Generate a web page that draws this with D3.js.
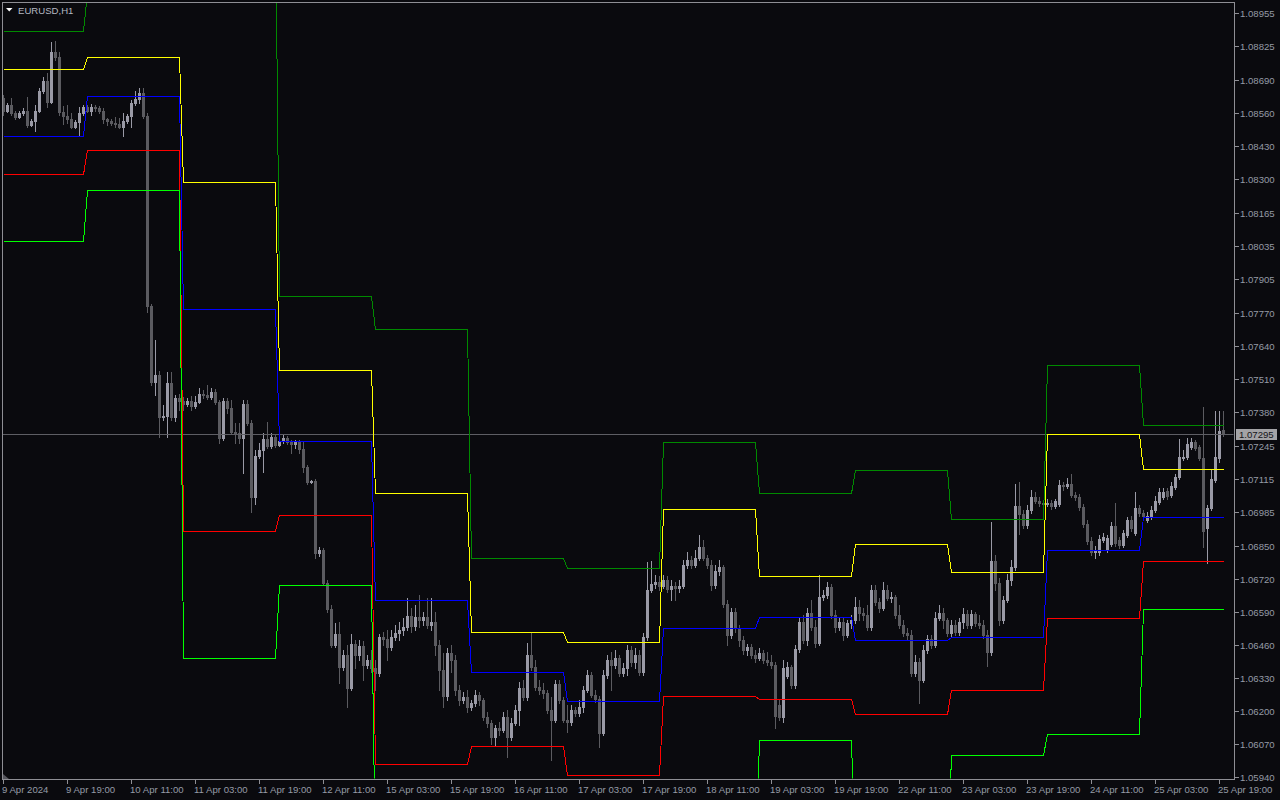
<!DOCTYPE html>
<html><head><meta charset="utf-8">
<script src="https://cdn.jsdelivr.net/npm/d3@7"></script>
<style>
html,body{margin:0;padding:0;background:#0a0a0e;}
svg{display:block}
text{font-family:"Liberation Sans",Arial,sans-serif;}
</style></head><body>
<svg id="chart" width="1280" height="800"></svg>
<script>
const symbolTitle = "EURUSD,H1";
const lastPrice = 1.07295;

const open = [
1.08619,1.08571,1.08591,1.08560,1.08544,1.08560,1.08571,1.08512,1.08528,1.08571,
1.08647,1.08686,1.08603,1.08801,1.08781,1.08564,1.08548,1.08536,1.08504,1.08524,
1.08560,1.08583,1.08571,1.08583,1.08579,1.08568,1.08536,1.08528,1.08520,1.08516,
1.08504,1.08528,1.08548,1.08599,1.08615,1.08639,1.08548,1.07797,1.07497,1.07525,
1.07359,1.07363,1.07493,1.07359,1.07434,1.07422,1.07410,1.07422,1.07402,1.07418,
1.07450,1.07446,1.07438,1.07458,1.07418,1.07276,1.07422,1.07394,1.07300,1.07296,
1.07276,1.07410,1.07335,1.07043,1.07205,1.07228,1.07272,1.07244,1.07280,1.07248,
1.07264,1.07276,1.07260,1.07252,1.07260,1.07232,1.07161,1.07102,1.07106,1.06822,
1.06833,1.06703,1.06600,1.06458,1.06502,1.06371,1.06419,1.06288,1.06462,1.06419,
1.06454,1.06379,1.06399,1.06367,1.06348,1.06490,1.06482,1.06450,1.06490,1.06506,
1.06517,1.06529,1.06573,1.06533,1.06569,1.06557,1.06569,1.06537,1.06549,1.06458,
1.06359,1.06257,1.06427,1.06399,1.06280,1.06241,1.06253,1.06213,1.06229,1.06261,
1.06241,1.06174,1.06150,1.06095,1.06130,1.06122,1.06174,1.06095,1.06150,1.06201,
1.06288,1.06253,1.06419,1.06371,1.06292,1.06280,1.06269,1.06201,1.06162,1.06304,
1.06241,1.06162,1.06154,1.06201,1.06190,1.06213,1.06280,1.06340,1.06261,1.06245,
1.06111,1.06340,1.06399,1.06379,1.06407,1.06348,1.06367,1.06438,1.06391,1.06419,
1.06352,1.06490,1.06675,1.06699,1.06707,1.06691,1.06715,1.06679,1.06691,1.06683,
1.06691,1.06774,1.06794,1.06774,1.06802,1.06845,1.06802,1.06774,1.06695,1.06751,
1.06766,1.06620,1.06498,1.06589,1.06525,1.06478,1.06438,1.06450,1.06419,1.06407,
1.06427,1.06399,1.06391,1.06379,1.06221,1.06174,1.06336,1.06371,1.06300,1.06442,
1.06549,1.06478,1.06585,1.06529,1.06466,1.06648,1.06656,1.06687,1.06577,1.06529,
1.06549,1.06498,1.06545,1.06557,1.06608,1.06585,1.06577,1.06529,1.06675,1.06628,
1.06604,1.06675,1.06644,1.06648,1.06577,1.06537,1.06506,1.06498,1.06348,1.06391,
1.06320,1.06438,1.06482,1.06458,1.06565,1.06585,1.06557,1.06506,1.06537,1.06510,
1.06549,1.06581,1.06537,1.06581,1.06545,1.06537,1.06498,1.06431,1.06790,1.06703,
1.06557,1.06636,1.06715,1.06766,1.07007,1.06976,1.06932,1.06991,1.07043,1.07027,
1.07019,1.07015,1.07019,1.07007,1.07015,1.07090,1.07086,1.07094,1.07051,1.07043,
1.07003,1.06936,1.06869,1.06826,1.06826,1.06873,1.06833,1.06857,1.06928,1.06873,
1.06853,1.06893,1.06952,1.06901,1.06999,1.06980,1.06952,1.06964,1.06991,1.07023,
1.07043,1.07067,1.07051,1.07082,1.07122,1.07197,1.07201,1.07240,1.07260,1.07240,
1.07197,1.06920,1.06999,1.07110,1.07197,1.07307];

const high = [
1.08631,1.08599,1.08619,1.08571,1.08568,1.08579,1.08623,1.08536,1.08591,1.08658,
1.08702,1.08718,1.08840,1.08844,1.08801,1.08587,1.08591,1.08560,1.08532,1.08583,
1.08591,1.08591,1.08595,1.08591,1.08587,1.08579,1.08540,1.08536,1.08544,1.08540,
1.08560,1.08556,1.08611,1.08650,1.08658,1.08658,1.08560,1.07805,1.07663,1.07541,
1.07406,1.07537,1.07537,1.07446,1.07450,1.07438,1.07434,1.07442,1.07442,1.07473,
1.07465,1.07485,1.07473,1.07469,1.07426,1.07434,1.07434,1.07426,1.07335,1.07335,
1.07426,1.07426,1.07347,1.07228,1.07256,1.07296,1.07339,1.07296,1.07288,1.07280,
1.07288,1.07284,1.07268,1.07268,1.07268,1.07260,1.07169,1.07110,1.07114,1.06845,
1.06841,1.06715,1.06616,1.06545,1.06549,1.06438,1.06458,1.06502,1.06478,1.06478,
1.06474,1.06419,1.06438,1.06399,1.06502,1.06510,1.06517,1.06517,1.06537,1.06549,
1.06565,1.06644,1.06604,1.06616,1.06656,1.06589,1.06644,1.06644,1.06589,1.06478,
1.06427,1.06446,1.06458,1.06419,1.06300,1.06273,1.06280,1.06241,1.06280,1.06273,
1.06249,1.06194,1.06162,1.06142,1.06154,1.06194,1.06201,1.06170,1.06221,1.06312,
1.06320,1.06466,1.06510,1.06399,1.06320,1.06308,1.06280,1.06253,1.06320,1.06320,
1.06253,1.06221,1.06221,1.06213,1.06241,1.06296,1.06359,1.06352,1.06280,1.06257,
1.06359,1.06419,1.06431,1.06438,1.06419,1.06387,1.06458,1.06454,1.06446,1.06438,
1.06506,1.06786,1.06790,1.06735,1.06731,1.06735,1.06731,1.06715,1.06707,1.06715,
1.06794,1.06826,1.06810,1.06833,1.06893,1.06873,1.06814,1.06794,1.06774,1.06794,
1.06774,1.06636,1.06604,1.06604,1.06537,1.06494,1.06462,1.06462,1.06438,1.06446,
1.06438,1.06431,1.06419,1.06391,1.06241,1.06399,1.06391,1.06379,1.06458,1.06565,
1.06577,1.06604,1.06636,1.06557,1.06735,1.06675,1.06707,1.06699,1.06596,1.06565,
1.06565,1.06557,1.06577,1.06648,1.06636,1.06604,1.06616,1.06695,1.06695,1.06644,
1.06707,1.06695,1.06668,1.06656,1.06616,1.06557,1.06525,1.06517,1.06419,1.06407,
1.06458,1.06498,1.06498,1.06589,1.06616,1.06604,1.06565,1.06557,1.06557,1.06565,
1.06604,1.06596,1.06596,1.06589,1.06577,1.06557,1.06517,1.06944,1.06814,1.06723,
1.06652,1.06739,1.06794,1.07094,1.07102,1.06991,1.07011,1.07070,1.07063,1.07043,
1.07031,1.07035,1.07031,1.07035,1.07110,1.07102,1.07118,1.07134,1.07063,1.07055,
1.07015,1.06952,1.06885,1.06849,1.06893,1.06901,1.06893,1.06944,1.07019,1.06885,
1.06912,1.06964,1.06968,1.07063,1.07011,1.06991,1.06984,1.07007,1.07047,1.07078,
1.07078,1.07078,1.07102,1.07134,1.07272,1.07228,1.07276,1.07276,1.07268,1.07248,
1.07398,1.07011,1.07149,1.07383,1.07383,1.07383];

const low = [
1.08552,1.08564,1.08552,1.08536,1.08540,1.08552,1.08504,1.08508,1.08492,1.08564,
1.08639,1.08583,1.08599,1.08769,1.08552,1.08516,1.08520,1.08500,1.08500,1.08469,
1.08552,1.08564,1.08552,1.08571,1.08560,1.08520,1.08512,1.08512,1.08504,1.08500,
1.08469,1.08520,1.08504,1.08591,1.08599,1.08540,1.07774,1.07485,1.07446,1.07280,
1.07347,1.07280,1.07347,1.07343,1.07386,1.07386,1.07402,1.07386,1.07394,1.07414,
1.07434,1.07430,1.07430,1.07410,1.07256,1.07268,1.07375,1.07292,1.07256,1.07256,
1.07138,1.07327,1.06984,1.07015,1.07197,1.07142,1.07236,1.07236,1.07240,1.07244,
1.07256,1.07252,1.07217,1.07236,1.07217,1.07142,1.07094,1.07098,1.06802,1.06810,
1.06695,1.06589,1.06450,1.06450,1.06308,1.06359,1.06213,1.06280,1.06367,1.06399,
1.06320,1.06367,1.06352,1.06280,1.06336,1.06458,1.06399,1.06438,1.06478,1.06478,
1.06498,1.06517,1.06510,1.06517,1.06529,1.06537,1.06525,1.06517,1.06419,1.06280,
1.06213,1.06241,1.06352,1.06261,1.06221,1.06229,1.06194,1.06201,1.06217,1.06221,
1.06162,1.06134,1.06067,1.06063,1.06103,1.06115,1.06016,1.06083,1.06142,1.06142,
1.06241,1.06241,1.06359,1.06280,1.06265,1.06249,1.06190,1.06004,1.06154,1.06229,
1.06154,1.06115,1.06142,1.06178,1.06178,1.06194,1.06273,1.06253,1.06233,1.06055,
1.06103,1.06328,1.06280,1.06367,1.06336,1.06336,1.06340,1.06375,1.06367,1.06340,
1.06340,1.06478,1.06668,1.06683,1.06675,1.06683,1.06668,1.06636,1.06636,1.06668,
1.06683,1.06762,1.06762,1.06766,1.06794,1.06794,1.06762,1.06675,1.06683,1.06735,
1.06608,1.06458,1.06486,1.06510,1.06454,1.06423,1.06419,1.06407,1.06391,1.06399,
1.06387,1.06379,1.06367,1.06130,1.06162,1.06154,1.06328,1.06288,1.06288,1.06431,
1.06466,1.06458,1.06517,1.06450,1.06458,1.06636,1.06644,1.06565,1.06510,1.06517,
1.06478,1.06490,1.06525,1.06545,1.06557,1.06557,1.06517,1.06517,1.06616,1.06589,
1.06596,1.06636,1.06628,1.06565,1.06525,1.06494,1.06478,1.06336,1.06336,1.06229,
1.06312,1.06427,1.06446,1.06450,1.06557,1.06525,1.06494,1.06494,1.06498,1.06498,
1.06525,1.06525,1.06525,1.06533,1.06525,1.06486,1.06375,1.06419,1.06675,1.06537,
1.06545,1.06628,1.06695,1.06754,1.06897,1.06920,1.06920,1.06980,1.07019,1.07007,
1.06999,1.07007,1.06995,1.06999,1.07007,1.07070,1.07078,1.07043,1.07031,1.06991,
1.06924,1.06857,1.06814,1.06802,1.06814,1.06865,1.06826,1.06849,1.06849,1.06841,
1.06845,1.06885,1.06909,1.06893,1.06968,1.06956,1.06944,1.06956,1.06984,1.07015,
1.07035,1.07035,1.07043,1.07074,1.07114,1.07189,1.07193,1.07232,1.07228,1.07189,
1.06845,1.06782,1.06991,1.07102,1.07181,1.07284];

const close = [
1.08571,1.08591,1.08560,1.08544,1.08560,1.08571,1.08512,1.08528,1.08571,1.08647,
1.08686,1.08603,1.08801,1.08781,1.08564,1.08548,1.08536,1.08504,1.08524,1.08560,
1.08583,1.08571,1.08583,1.08579,1.08568,1.08536,1.08528,1.08520,1.08516,1.08504,
1.08528,1.08548,1.08599,1.08615,1.08639,1.08548,1.07797,1.07497,1.07525,1.07359,
1.07363,1.07493,1.07359,1.07434,1.07422,1.07410,1.07422,1.07402,1.07418,1.07450,
1.07446,1.07438,1.07458,1.07418,1.07276,1.07422,1.07394,1.07300,1.07296,1.07276,
1.07410,1.07335,1.07043,1.07205,1.07228,1.07272,1.07244,1.07280,1.07248,1.07264,
1.07276,1.07260,1.07252,1.07260,1.07232,1.07161,1.07102,1.07106,1.06822,1.06833,
1.06703,1.06600,1.06458,1.06502,1.06371,1.06419,1.06288,1.06462,1.06419,1.06454,
1.06379,1.06399,1.06367,1.06348,1.06490,1.06482,1.06450,1.06490,1.06506,1.06517,
1.06529,1.06573,1.06533,1.06569,1.06557,1.06569,1.06537,1.06549,1.06458,1.06359,
1.06257,1.06427,1.06399,1.06280,1.06241,1.06253,1.06213,1.06229,1.06261,1.06241,
1.06174,1.06150,1.06095,1.06130,1.06122,1.06174,1.06095,1.06150,1.06201,1.06288,
1.06253,1.06419,1.06371,1.06292,1.06280,1.06269,1.06201,1.06162,1.06304,1.06241,
1.06162,1.06154,1.06201,1.06190,1.06213,1.06280,1.06340,1.06261,1.06245,1.06111,
1.06340,1.06399,1.06379,1.06407,1.06348,1.06367,1.06438,1.06391,1.06419,1.06352,
1.06490,1.06675,1.06699,1.06707,1.06691,1.06715,1.06679,1.06691,1.06683,1.06691,
1.06774,1.06794,1.06774,1.06802,1.06845,1.06802,1.06774,1.06695,1.06751,1.06766,
1.06620,1.06498,1.06589,1.06525,1.06478,1.06438,1.06450,1.06419,1.06407,1.06427,
1.06399,1.06391,1.06379,1.06178,1.06174,1.06367,1.06371,1.06300,1.06442,1.06549,
1.06478,1.06585,1.06529,1.06466,1.06648,1.06656,1.06687,1.06577,1.06529,1.06549,
1.06498,1.06545,1.06557,1.06608,1.06585,1.06577,1.06529,1.06675,1.06628,1.06604,
1.06675,1.06644,1.06648,1.06577,1.06537,1.06506,1.06498,1.06348,1.06391,1.06320,
1.06438,1.06482,1.06458,1.06565,1.06585,1.06557,1.06506,1.06537,1.06510,1.06549,
1.06581,1.06537,1.06581,1.06545,1.06537,1.06498,1.06431,1.06790,1.06703,1.06557,
1.06636,1.06715,1.06766,1.07007,1.06976,1.06932,1.06991,1.07043,1.07027,1.07019,
1.07015,1.07019,1.07007,1.07027,1.07090,1.07086,1.07094,1.07051,1.07043,1.07003,
1.06936,1.06869,1.06826,1.06833,1.06877,1.06885,1.06881,1.06928,1.06861,1.06853,
1.06901,1.06952,1.06920,1.06999,1.06980,1.06968,1.06968,1.06991,1.07027,1.07063,
1.07063,1.07047,1.07086,1.07122,1.07201,1.07201,1.07252,1.07260,1.07236,1.07197,
1.06909,1.06999,1.07114,1.07201,1.07304,1.07295];

// daily levels (one value per trading day: 9,10,11,12,15,16,17,18,19,22,23,24,25 Apr)
const levelDarkGreen = [1.08884,1.09038,1.09342,1.07837,1.07706,1.06802,1.06762,1.07260,1.07059,1.07149,1.06956,1.07564,1.07327];
const levelYellow    = [1.08733,1.08781,1.08287,1.07544,1.07059,1.06510,1.06470,1.06995,1.06731,1.06857,1.06747,1.07292,1.07153];
const levelBlue      = [1.08469,1.08627,1.07785,1.07264,1.06636,1.06352,1.06237,1.06525,1.06569,1.06478,1.06490,1.06833,1.06964];
const levelRed       = [1.08319,1.08414,1.06909,1.06972,1.05988,1.06059,1.05945,1.06257,1.06245,1.06186,1.06280,1.06565,1.06790];
const levelLime      = [1.08054,1.08255,1.06407,1.06695,1.05569,1.05609,1.05530,1.05569,1.06083,1.05558,1.06024,1.06107,1.06600];

const priceTicks = [1.08955,1.08825,1.08690,1.08560,1.08430,1.08300,1.08165,1.08035,1.07905,1.07770,1.07640,1.07510,1.07380,1.07245,1.07115,1.06985,1.06850,1.06720,1.06590,1.06460,1.06330,1.06200,1.06070,1.05940];
const timeTickLabels = ["9 Apr 2024","9 Apr 19:00","10 Apr 11:00","11 Apr 03:00","11 Apr 19:00","12 Apr 11:00","15 Apr 03:00","15 Apr 19:00","16 Apr 11:00","17 Apr 03:00","17 Apr 19:00","18 Apr 11:00","19 Apr 03:00","19 Apr 19:00","22 Apr 11:00","23 Apr 03:00","23 Apr 19:00","24 Apr 11:00","25 Apr 03:00","25 Apr 19:00"];

// ---- bar times (hourly, weekends skipped) ----
const n = close.length;
const barDay = [];
let t = Date.UTC(2024,3,9,3);
for (let i=0;i<n;i++){
  barDay.push(new Date(t).toISOString().slice(0,10));
  t += 3600e3;
  let nd = new Date(t);
  while (nd.getUTCDay()===6 || nd.getUTCDay()===0){ t += 3600e3; nd = new Date(t); }
}
const days = Array.from(new Set(barDay));
const dayIdx = barDay.map(d=>days.indexOf(d));

// ---- layout ----
const W=1280,H=800;
const plot = {x0:2, y0:2, x1:1234, y1:779};
const svg = d3.select("#chart");
svg.append("rect").attr("width",W).attr("height",H).attr("fill","#0a0a0e");

const xs = d3.scaleLinear().domain([0,n-1]).range([3,3+4*(n-1)]);
const ys = d3.scaleLinear().domain([1.05940,1.08955]).range([776.5,13.3]);

svg.append("clipPath").attr("id","pc").append("rect")
  .attr("x",plot.x0+0.5).attr("y",plot.y0+0.5).attr("width",plot.x1-plot.x0-1).attr("height",plot.y1-plot.y0-1);
const g = svg.append("g").attr("clip-path","url(#pc)");

// candles
const idx = d3.range(n);
const upBody="#9a9aa6", dnBody="#5b5b60";
const cg = g.append("g").attr("shape-rendering","crispEdges");
cg.selectAll("line.w").data(idx).join("line")
  .attr("x1",i=>xs(i)+0.5).attr("x2",i=>xs(i)+0.5)
  .attr("y1",i=>Math.round(ys(high[i]))).attr("y2",i=>Math.round(ys(low[i]))+1)
  .attr("stroke",i=>close[i]>=open[i]?upBody:dnBody).attr("stroke-width",1);
cg.selectAll("rect.b").data(idx).join("rect")
  .attr("x",i=>xs(i)-1).attr("width",3)
  .attr("y",i=>Math.round(ys(Math.max(open[i],close[i]))))
  .attr("height",i=>Math.max(1,Math.round(ys(Math.min(open[i],close[i])))-Math.round(ys(Math.max(open[i],close[i])))+1))
  .attr("fill",i=>close[i]>=open[i]?upBody:dnBody);

// current price line
g.append("line").attr("x1",plot.x0).attr("x2",plot.x1)
  .attr("y1",Math.round(ys(lastPrice))+0.5).attr("y2",Math.round(ys(lastPrice))+0.5)
  .attr("stroke","#5e5e64").attr("stroke-width",1);

// level lines
const levels = [
  {v:levelDarkGreen,c:"#008a00"},
  {v:levelYellow,c:"#ffff00"},
  {v:levelBlue,c:"#0000ff"},
  {v:levelRed,c:"#ff0000"},
  {v:levelLime,c:"#00ff00"}
];
const line = d3.line().x(i=>xs(i)+0.5).y(function(i){return Math.round(ys(this.v[dayIdx[i]]))+0.5;});
levels.forEach(L=>{
  const ln = d3.line().x(i=>xs(i)+0.5).y(i=>Math.round(ys(L.v[dayIdx[i]]))+0.5);
  g.append("path").attr("d",ln(idx)).attr("fill","none")
   .attr("stroke",L.c).attr("stroke-width",1).attr("shape-rendering","crispEdges");
});

// frame
const fc="#8e8e94";
const fr = svg.append("g").attr("shape-rendering","crispEdges");
fr.append("line").attr("x1",plot.x0+0.5).attr("x2",plot.x0+0.5).attr("y1",plot.y0).attr("y2",plot.y1+1).attr("stroke",fc);
fr.append("line").attr("x1",plot.x1+0.5).attr("x2",plot.x1+0.5).attr("y1",plot.y0).attr("y2",plot.y1+1).attr("stroke",fc);
fr.append("line").attr("x1",plot.x0).attr("x2",plot.x1+1).attr("y1",plot.y0+0.5).attr("y2",plot.y0+0.5).attr("stroke",fc);
fr.append("line").attr("x1",plot.x0).attr("x2",plot.x1+1).attr("y1",plot.y1+0.5).attr("y2",plot.y1+0.5).attr("stroke",fc);

// corner mark
svg.append("path").attr("d",`M${plot.x0+1},${plot.y1-5}L${plot.x0+1},${plot.y1}L${plot.x0+7},${plot.y1}Z`).attr("fill","#55555c");

// right price axis
const tc="#959aa6";
const ay = svg.append("g");
priceTicks.forEach(p=>{
  const y=Math.round(ys(p));
  ay.append("line").attr("x1",plot.x1+1).attr("x2",plot.x1+5).attr("y1",y+0.5).attr("y2",y+0.5).attr("stroke",fc).attr("shape-rendering","crispEdges");
  ay.append("text").attr("x",1240).attr("y",y+3.5).attr("fill",tc).attr("font-size","9.6px").text(p.toFixed(5));
});
// last price label
const ly=Math.round(ys(lastPrice));
ay.append("rect").attr("x",1236).attr("y",ly-5).attr("width",41).attr("height",11).attr("fill","#a3a3a6");
ay.append("text").attr("x",1239).attr("y",ly+4).attr("fill","#151518").attr("font-size","9.6px").text(lastPrice.toFixed(5));

// bottom time axis
const ax = svg.append("g");
timeTickLabels.forEach((lab,k)=>{
  const x = xs(k*16);
  ax.append("line").attr("x1",x+0.5).attr("x2",x+0.5).attr("y1",plot.y1+1).attr("y2",plot.y1+5).attr("stroke",fc).attr("shape-rendering","crispEdges");
  ax.append("text").attr("x",x-1).attr("y",793).attr("fill",tc).attr("font-size","9.6px").text(lab);
});

// title
svg.append("path").attr("d","M6,8L12.5,8L9.25,11.5Z").attr("fill","#ffffff");
svg.append("text").attr("x",18).attr("y",14).attr("fill","#b4b8c2").attr("font-size","9.6px").text(symbolTitle);
</script>
</body></html>
